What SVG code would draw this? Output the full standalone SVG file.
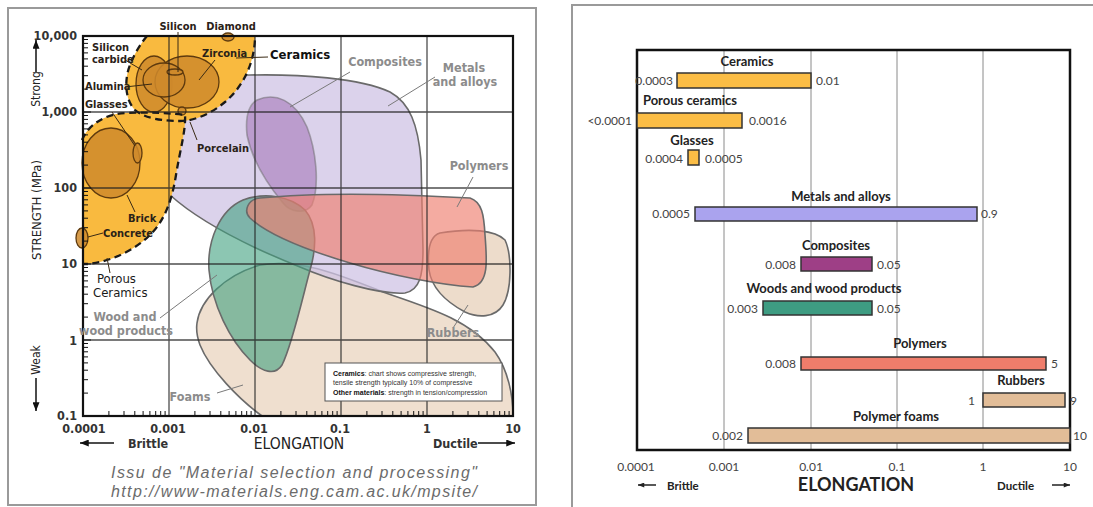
<svg xmlns="http://www.w3.org/2000/svg" width="1093" height="507" viewBox="0 0 1093 507">
<style>
.lf{font-family:"Liberation Sans Narrow","DejaVu Sans Condensed","Liberation Sans",sans-serif}
.dk{font-size:11px;font-weight:bold;fill:#2a2218}
.gy{font-size:12.5px;font-weight:bold;fill:#8c8c8c}
.ax{font-size:12.5px;font-weight:bold;fill:#333}
.rf{font-family:Lato,"Liberation Sans",sans-serif}
.rl{font-size:13px;font-weight:bold;fill:#222}
.rv{font-size:12px;fill:#444}
.bar{stroke:#333;stroke-width:1.5}
.inner{fill:#cf8a2c;fill-opacity:.85;stroke:#5e3a0e;stroke-width:1.3}
.ldr{stroke:#3a2a14;stroke-width:1;fill:none}
.gld{stroke:#7a7a7a;stroke-width:1;fill:none}
.dash{fill:none;stroke:#1a1a1a;stroke-width:2.3;stroke-dasharray:7 4.5}
.reg{stroke:#6a6a6a;stroke-width:1.6}
.grid{stroke:#222;stroke-width:1.3;stroke-opacity:.8}
.rgrid{stroke:#8a8a8a;stroke-width:1}
.lg{font-family:"Liberation Sans",sans-serif;font-size:7px;fill:#333}
</style>
<defs>
<marker id="ah" viewBox="0 0 10 8" refX="10" refY="4" markerWidth="10" markerHeight="7" markerUnits="userSpaceOnUse" orient="auto"><path d="M0,0 L10,4 L0,8 z" fill="#111"/></marker>
<marker id="ah2" viewBox="0 0 10 8" refX="10" refY="4" markerWidth="9" markerHeight="5" markerUnits="userSpaceOnUse" orient="auto"><path d="M0,0 L10,4 L0,8 z" fill="#222"/></marker>
</defs>
<rect width="1093" height="507" fill="#fff"/>

<!-- LEFT PANEL -->
<g id="left-panel">
<rect x="8" y="8" width="528" height="497" fill="#fff" stroke="#9a9a9a" stroke-width="2"/>

<g id="foams"><path class="reg" fill="#efdfcf" d="M197,323 C200,300 225,275 260,265 C300,258 340,275 383,292 C430,308 470,320 495,352 C508,370 513,395 513,416 L262,416 C240,400 210,370 200,345 C197,337 196,330 197,323 Z"/></g>
<g id="rubbers"><path class="reg" fill="#eddccb" d="M440,233 C470,228 495,230 505,240 C512,255 512,290 503,305 C495,318 478,318 465,312 C450,304 432,290 429,270 C427,250 430,236 440,233 Z"/></g>
<g id="metals"><path class="reg" fill="#cfc3e4" fill-opacity=".75" d="M250,75 C300,74 360,78 390,92 C410,103 418,125 421,160 L423,250 C423,275 420,290 405,293 C380,295 330,280 300,267 C250,247 200,222 170,195 L170,120 C180,90 210,76 250,75 Z"/></g>
<g id="composites"><path class="reg" fill="#a070b5" fill-opacity=".55" stroke-opacity=".5" d="M257,100 C275,92 295,100 307,127 C316,150 320,185 312,205 C305,215 290,212 283,203 C268,185 252,160 247,135 C245,115 250,104 257,100 Z"/></g>
<g id="woods"><path class="reg" fill="#3fa07f" fill-opacity=".6" d="M243,200 C265,192 290,196 305,210 C318,225 316,250 310,270 C302,300 292,345 282,365 C275,376 262,372 250,360 C230,340 212,305 209,270 C207,240 220,210 243,200 Z"/></g>
<g id="polymers"><path class="reg" fill="#ee7f70" fill-opacity=".66" d="M260,198 C320,192 400,194 470,198 C482,202 484,215 485,235 C487,260 489,283 473,287 C440,285 390,275 350,263 C300,248 265,232 250,218 C243,211 248,199 260,198 Z"/></g>

<g id="ceramics">
<path fill="#f9ba3f" d="M147,36 L255,36 C255,60 245,85 225,102 C212,113 195,121 180,121 C165,121 145,119 135,110 C125,100 124,80 130,65 C135,52 142,42 147,36 Z"/>
<path fill="#f9ba3f" d="M82,140 C88,125 105,114 125,113 C150,112 170,113 185,115 C186,130 180,150 176,175 C172,200 165,220 150,235 C135,250 110,262 88,264 L82,264 Z"/>
<ellipse class="inner" cx="154" cy="84" rx="18" ry="28"/>
<ellipse class="inner" cx="187" cy="82" rx="32" ry="26"/>
<ellipse class="inner" cx="164" cy="80" rx="21" ry="17"/>
<ellipse class="inner" cx="175" cy="72" rx="8" ry="3"/>
<ellipse class="inner" cx="228" cy="37" rx="6" ry="4"/>
<circle class="inner" cx="182" cy="111" r="4"/>
<ellipse class="inner" cx="111" cy="163" rx="29" ry="35"/>
<ellipse class="inner" cx="137.5" cy="153" rx="4.5" ry="10"/>
<ellipse class="inner" cx="82" cy="238" rx="6" ry="10"/>
<path class="dash" d="M147,36 C142,42 135,52 130,65 C124,80 125,100 135,110 C145,119 165,121 180,121 C195,121 212,113 225,102 C245,85 255,60 255,36"/>
<path class="dash" d="M82,140 C88,125 105,114 125,113 C150,112 170,113 185,115 C186,130 180,150 176,175 C172,200 165,220 150,235 C135,250 110,262 88,264 L82,264"/>
</g>

<g id="grid">
<path class="grid" d="M169,36V416M255,36V416M341,36V416M427,36V416M83,112H513M83,188H513M83,264H513M83,340H513"/>
<path stroke="#111" stroke-width="1" fill="none" d="M83,393.1h5M83,379.7h5M83,370.2h5M83,362.9h5M83,356.9h5M83,351.8h5M83,347.4h5M83,343.5h5M83,317.1h5M83,303.7h5M83,294.2h5M83,286.9h5M83,280.9h5M83,275.8h5M83,271.4h5M83,267.5h5M83,241.1h5M83,227.7h5M83,218.2h5M83,210.9h5M83,204.9h5M83,199.8h5M83,195.4h5M83,191.5h5M83,165.1h5M83,151.7h5M83,142.2h5M83,134.9h5M83,128.9h5M83,123.8h5M83,119.4h5M83,115.5h5M83,89.1h5M83,75.7h5M83,66.2h5M83,58.9h5M83,52.9h5M83,47.8h5M83,43.4h5M83,39.5h5M83,340h8M83,264h8M83,188h8M83,112h8
M108.9,416v-5M124,416v-5M134.8,416v-5M143.1,416v-5M149.9,416v-5M155.7,416v-5M160.7,416v-5M165.1,416v-5M194.9,416v-5M210,416v-5M220.8,416v-5M229.1,416v-5M235.9,416v-5M241.7,416v-5M246.7,416v-5M251.1,416v-5M280.9,416v-5M296,416v-5M306.8,416v-5M315.1,416v-5M321.9,416v-5M327.7,416v-5M332.7,416v-5M337.1,416v-5M366.9,416v-5M382,416v-5M392.8,416v-5M401.1,416v-5M407.9,416v-5M413.7,416v-5M418.7,416v-5M423.1,416v-5M452.9,416v-5M468,416v-5M478.8,416v-5M487.1,416v-5M493.9,416v-5M499.7,416v-5M504.7,416v-5M509.1,416v-5"/>
<rect x="83" y="36" width="430" height="380" fill="none" stroke="#111" stroke-width="2.2"/>
</g>

<g id="left-connectors">
<path class="ldr" d="M178,32V72M125,60L142,70M215,60L199,80M125,87L152,84M112,112L135,146M190,122L197,140M127,195L135,212M88,237L103,233M107,258L110,273M236,58L268,57"/>
<path class="gld" d="M350,72L290,107M435,77L388,106M473,177L457,207M468,305L453,328M160,318L217,275M217,393L243,385"/>
</g>

<g id="left-labels" class="lf">
<text class="dk" x="178" y="30" text-anchor="middle">Silicon</text>
<text class="dk" x="231" y="30" text-anchor="middle">Diamond</text>
<text class="dk" x="92" y="51">Silicon</text>
<text class="dk" x="92" y="63">carbide</text>
<text class="dk" x="202" y="57">Zirconia</text>
<text class="dk" x="85" y="90">Alumina</text>
<text class="dk" x="85" y="108">Glasses</text>
<text class="dk" x="197" y="152">Porcelain</text>
<text class="dk" x="128" y="222">Brick</text>
<text class="dk" x="103" y="237">Concrete</text>
<text x="97" y="283" font-size="13" fill="#1a1a1a">Porous</text>
<text x="93" y="297" font-size="13" fill="#1a1a1a">Ceramics</text>
<text x="270" y="59" font-size="13" font-weight="bold" fill="#111">Ceramics</text>
<text class="gy" x="385" y="66" text-anchor="middle">Composites</text>
<text class="gy" x="464" y="72" text-anchor="middle">Metals</text>
<text class="gy" x="465" y="86" text-anchor="middle">and alloys</text>
<text class="gy" x="479" y="170" text-anchor="middle">Polymers</text>
<text class="gy" x="453" y="337" text-anchor="middle">Rubbers</text>
<text class="gy" x="125" y="321" text-anchor="middle">Wood and</text>
<text class="gy" x="126" y="335" text-anchor="middle">wood products</text>
<text class="gy" x="190" y="401" text-anchor="middle" font-weight="normal">Foams</text>
</g>

<g id="legend">
<rect x="325" y="363" width="177" height="38" fill="#fff" stroke="#555" stroke-width="1"/>
<text class="lg" x="333" y="376"><tspan font-weight="bold" fill="#111">Ceramics</tspan>: chart shows compressive strength,</text>
<text class="lg" x="333" y="385">tensile strength typically 10% of compressive</text>
<text class="lg" x="333" y="395"><tspan font-weight="bold" fill="#111">Other materials</tspan>: strength in tension/compression</text>
</g>

<g id="left-axes" class="lf">
<text class="ax" x="77" y="40" text-anchor="end">10,000</text>
<text class="ax" x="77" y="116" text-anchor="end">1,000</text>
<text class="ax" x="77" y="192" text-anchor="end">100</text>
<text class="ax" x="77" y="268" text-anchor="end">10</text>
<text class="ax" x="77" y="345" text-anchor="end">1</text>
<text class="ax" x="77" y="420" text-anchor="end">0.1</text>
<text class="ax" x="84" y="433" text-anchor="middle">0.0001</text>
<text class="ax" x="168" y="433" text-anchor="middle">0.001</text>
<text class="ax" x="254" y="433" text-anchor="middle">0.01</text>
<text class="ax" x="340" y="433" text-anchor="middle">0.1</text>
<text class="ax" x="427" y="433" text-anchor="middle">1</text>
<text class="ax" x="513" y="433" text-anchor="middle">10</text>
<line x1="114" y1="443" x2="80" y2="443" stroke="#111" stroke-width="1.5" marker-end="url(#ah)"/>
<text class="ax" x="128" y="448" fill="#222">Brittle</text>
<text x="299" y="449" text-anchor="middle" font-size="15.5" fill="#222">ELONGATION</text>
<text class="ax" x="433" y="448" fill="#222">Ductile</text>
<line x1="478" y1="443" x2="515" y2="443" stroke="#111" stroke-width="1.5" marker-end="url(#ah)"/>
<text transform="translate(41,210) rotate(-90)" text-anchor="middle" font-size="13" fill="#222">STRENGTH (MPa)</text>
<text transform="translate(40,89) rotate(-90)" text-anchor="middle" font-size="12" fill="#222">Strong</text>
<line x1="36" y1="72" x2="36" y2="40" stroke="#111" stroke-width="1.5" marker-end="url(#ah)"/>
<text transform="translate(40,360) rotate(-90)" text-anchor="middle" font-size="12" fill="#222">Weak</text>
<line x1="36" y1="378" x2="36" y2="411" stroke="#111" stroke-width="1.5" marker-end="url(#ah)"/>
</g>

<g id="caption" font-family="Liberation Sans,sans-serif" font-style="italic" font-size="16" fill="#6b6b6b">
<text x="111" y="478" textLength="366" lengthAdjust="spacing">Issu de "Material selection and processing"</text>
<text x="111" y="497" textLength="366" lengthAdjust="spacing">http://www-materials.eng.cam.ac.uk/mpsite/</text>
</g>
</g>

<!-- RIGHT PANEL -->
<g id="right-panel" class="rf">
<rect x="572" y="5" width="530" height="510" fill="#fff" stroke="#9a9a9a" stroke-width="2"/>
<path class="rgrid" d="M724,50V450M811,50V450M897,50V450M983,50V450"/>
<rect x="637" y="50" width="433" height="400" fill="none" stroke="#111" stroke-width="2.5"/>

<g id="bar-ceramics"><text class="rl" x="747" y="66" text-anchor="middle">Ceramics</text><rect class="bar" x="677" y="73" width="134" height="15" fill="#fbbd45"/><text class="rv" x="673" y="85" text-anchor="end">0.0003</text><text class="rv" x="816" y="85">0.01</text></g>
<g id="bar-porous"><text class="rl" x="690" y="105" text-anchor="middle">Porous ceramics</text><rect class="bar" x="637" y="113" width="105" height="15" fill="#fbbd45"/><text class="rv" x="632" y="125" text-anchor="end">&lt;0.0001</text><text class="rv" x="749" y="125">0.0016</text></g>
<g id="bar-glasses"><text class="rl" x="692" y="145" text-anchor="middle">Glasses</text><rect class="bar" x="688" y="150" width="11" height="15" fill="#fbbd45"/><text class="rv" x="683" y="163" text-anchor="end">0.0004</text><text class="rv" x="705" y="163">0.0005</text></g>
<g id="bar-metals"><text class="rl" x="841" y="201" text-anchor="middle">Metals and alloys</text><rect class="bar" x="695" y="207" width="282" height="14" fill="#aaa3ee"/><text class="rv" x="690" y="218" text-anchor="end">0.0005</text><text class="rv" x="981" y="218">0.9</text></g>
<g id="bar-composites"><text class="rl" x="836" y="250" text-anchor="middle">Composites</text><rect class="bar" x="801" y="257" width="71" height="14" fill="#9e3f86"/><text class="rv" x="796" y="269" text-anchor="end">0.008</text><text class="rv" x="877" y="269">0.05</text></g>
<g id="bar-woods"><text class="rl" x="824" y="293" text-anchor="middle">Woods and wood products</text><rect class="bar" x="763" y="301" width="109" height="14" fill="#3e9c82"/><text class="rv" x="758" y="313" text-anchor="end">0.003</text><text class="rv" x="877" y="313">0.05</text></g>
<g id="bar-polymers"><text class="rl" x="920" y="348" text-anchor="middle">Polymers</text><rect class="bar" x="801" y="357" width="245" height="13" fill="#ef7d6b"/><text class="rv" x="796" y="368" text-anchor="end">0.008</text><text class="rv" x="1051" y="368">5</text></g>
<g id="bar-rubbers"><text class="rl" x="1021" y="385" text-anchor="middle">Rubbers</text><rect class="bar" x="983" y="393" width="82" height="14" fill="#e2bd98"/><text class="rv" x="975" y="405" text-anchor="end">1</text><text class="rv" x="1070" y="405">9</text></g>
<g id="bar-foams"><text class="rl" x="896" y="421" text-anchor="middle">Polymer foams</text><rect class="bar" x="748" y="428" width="322" height="15" fill="#e2bd98"/><text class="rv" x="743" y="440" text-anchor="end">0.002</text><text class="rv" x="1073" y="440">10</text></g>

<g id="right-axis">
<text class="rv" x="636" y="471" text-anchor="middle">0.0001</text>
<text class="rv" x="724" y="471" text-anchor="middle">0.001</text>
<text class="rv" x="811" y="471" text-anchor="middle">0.01</text>
<text class="rv" x="897" y="471" text-anchor="middle">0.1</text>
<text class="rv" x="983" y="471" text-anchor="middle">1</text>
<text class="rv" x="1070" y="471" text-anchor="middle">10</text>
<line x1="656" y1="485" x2="638" y2="485" stroke="#222" stroke-width="1.5" marker-end="url(#ah2)"/>
<text x="667" y="490" font-size="11.5" font-weight="bold" fill="#222">Brittle</text>
<text x="856" y="491" text-anchor="middle" font-size="18" font-weight="bold" fill="#222">ELONGATION</text>
<text x="997" y="490" font-size="11.5" font-weight="bold" fill="#222">Ductile</text>
<line x1="1052" y1="485" x2="1070" y2="485" stroke="#222" stroke-width="1.5" marker-end="url(#ah2)"/>
</g>
</g>
</svg>
